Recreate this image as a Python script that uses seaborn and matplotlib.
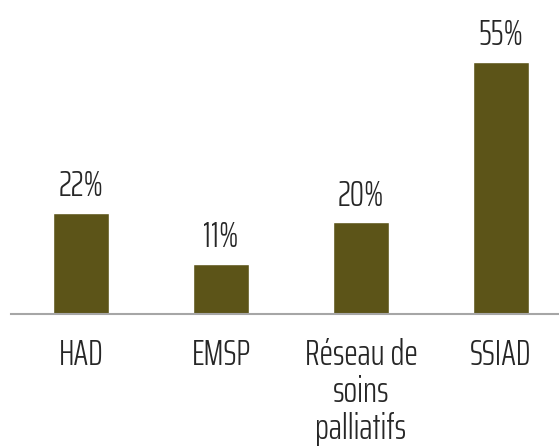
import matplotlib
matplotlib.use("Agg")
import matplotlib.pyplot as plt
import seaborn as sns
import pandas as pd

categories = ["HAD", "EMSP", "Réseau de\nsoins\npalliatifs", "SSIAD"]
values = [22, 11, 20, 55]
value_labels = ["22%", "11%", "20%", "55%"]

sns.set_theme(style="white")
plt.rcParams['font.family'] = ['Saira ExtraCondensed', 'DejaVu Sans']
plt.rcParams['font.weight'] = 300

W, H = 559, 447
fig = plt.figure(figsize=(W / 100, H / 100), dpi=100)
left = 11 / W
bottom = (H - 314) / H
ax = fig.add_axes([left, bottom, 560 / W, 314 / H])

df = pd.DataFrame({"cat": categories, "val": values})
sns.barplot(data=df, x="cat", y="val", color="#5c5418", saturation=1,
            width=0.4, ax=ax)
ax.set_ylim(0, 68.5)
ax.set_xlim(-0.5, 3.5)

for i, (v, lab) in enumerate(zip(values, value_labels)):
    ax.annotate(lab, (i, v), xytext=(0, 12), textcoords="offset points",
                ha="center", va="baseline", fontsize=26, color="#262626",
                fontweight=300)

ax.set_xlabel("")
ax.set_ylabel("")
ax.set_yticks([])
for s in ["top", "right", "left"]:
    ax.spines[s].set_visible(False)
ax.spines["bottom"].set_color("#a6a6a6")
ax.spines["bottom"].set_linewidth(1.5)
ax.tick_params(axis="x", length=0, pad=17, labelsize=26, labelcolor="#262626")
for t in ax.get_xticklabels():
    t.set_linespacing(1.12)
    t.set_fontweight(300)

fig.savefig("out.png", dpi=100)
